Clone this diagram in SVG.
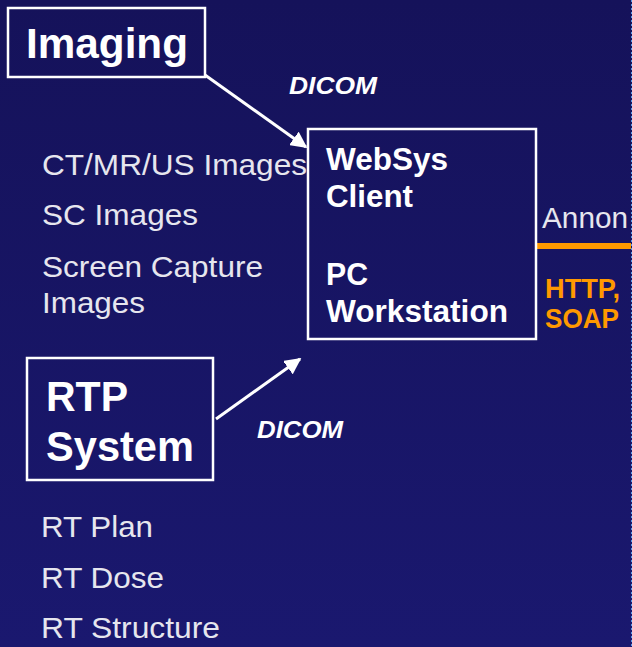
<svg xmlns="http://www.w3.org/2000/svg" width="632" height="647" viewBox="0 0 632 647">
<defs>
<linearGradient id="bg" x1="0" y1="0" x2="0" y2="1">
<stop offset="0" stop-color="#15125a"/>
<stop offset="1" stop-color="#1a186f"/>
</linearGradient>
<marker id="ah" viewBox="0 0 10 10" refX="9" refY="5" markerWidth="5.5" markerHeight="5.5" orient="auto" markerUnits="strokeWidth">
<path d="M0,0 L10,5 L0,10 z" fill="#ffffff"/>
</marker>
<style>
.box{fill:none;stroke:#ffffff;stroke-width:2.5}
.big{font-family:"Liberation Sans",Arial,sans-serif;font-weight:bold;fill:#ffffff;font-size:42px}
.mid{font-family:"Liberation Sans",Arial,sans-serif;font-weight:bold;fill:#ffffff;font-size:31px}
.item{font-family:"Liberation Sans",Arial,sans-serif;fill:#e6e6ee;font-size:30px}
.lbl{font-family:"Liberation Sans",Arial,sans-serif;font-weight:bold;font-style:italic;fill:#ffffff;font-size:23px}
.org{font-family:"Liberation Sans",Arial,sans-serif;font-weight:bold;fill:#ff9900;font-size:27px}
.arr{stroke:#ffffff;stroke-width:3;fill:none;marker-end:url(#ah)}
</style>
</defs>
<rect x="0" y="0" width="632" height="647" fill="url(#bg)"/>
<line x1="631.5" y1="0" x2="631.5" y2="647" stroke="#5a9ae6" stroke-width="1" stroke-dasharray="2 2"/>

<g id="connectors">
<line class="arr" x1="205" y1="75" x2="306" y2="147"/>
<line class="arr" x1="216" y1="419" x2="300" y2="359"/>
<line x1="536" y1="246" x2="631" y2="246" stroke="#ff9900" stroke-width="6"/>
<text class="lbl" x="289" y="94" textLength="88" lengthAdjust="spacingAndGlyphs">DICOM</text>
<text class="lbl" x="257" y="438" textLength="86" lengthAdjust="spacingAndGlyphs">DICOM</text>
<text class="org" x="545" y="298" textLength="75" lengthAdjust="spacingAndGlyphs">HTTP,</text>
<text class="org" x="545" y="328" textLength="74" lengthAdjust="spacingAndGlyphs">SOAP</text>
</g>

<g id="imaging">
<rect class="box" x="8" y="8" width="197" height="69"/>
<text class="big" x="26" y="58" textLength="162" lengthAdjust="spacingAndGlyphs">Imaging</text>
</g>

<g id="imaging-items">
<text class="item" x="42" y="175" textLength="265" lengthAdjust="spacingAndGlyphs">CT/MR/US Images</text>
<text class="item" x="42" y="225" textLength="156" lengthAdjust="spacingAndGlyphs">SC Images</text>
<text class="item" x="42" y="277" textLength="221" lengthAdjust="spacingAndGlyphs">Screen Capture</text>
<text class="item" x="42" y="313" textLength="103" lengthAdjust="spacingAndGlyphs">Images</text>
</g>

<g id="websys">
<rect class="box" x="308" y="129" width="228" height="210"/>
<text class="mid" x="326" y="170" textLength="122" lengthAdjust="spacingAndGlyphs">WebSys</text>
<text class="mid" x="326" y="207" textLength="87" lengthAdjust="spacingAndGlyphs">Client</text>
<text class="mid" x="326" y="285" textLength="42" lengthAdjust="spacingAndGlyphs">PC</text>
<text class="mid" x="326" y="322" textLength="182" lengthAdjust="spacingAndGlyphs">Workstation</text>
</g>

<g id="annon">
<text class="item" x="542" y="228" textLength="86" lengthAdjust="spacingAndGlyphs">Annon</text>
</g>

<g id="rtp">
<rect class="box" x="27" y="358" width="186" height="122"/>
<text class="big" x="46" y="411" textLength="82" lengthAdjust="spacingAndGlyphs">RTP</text>
<text class="big" x="46" y="461" textLength="148" lengthAdjust="spacingAndGlyphs">System</text>
</g>

<g id="rtp-items">
<text class="item" x="41" y="537" textLength="112" lengthAdjust="spacingAndGlyphs">RT Plan</text>
<text class="item" x="41" y="588" textLength="123" lengthAdjust="spacingAndGlyphs">RT Dose</text>
<text class="item" x="41" y="638" textLength="179" lengthAdjust="spacingAndGlyphs">RT Structure</text>
</g>
</svg>
